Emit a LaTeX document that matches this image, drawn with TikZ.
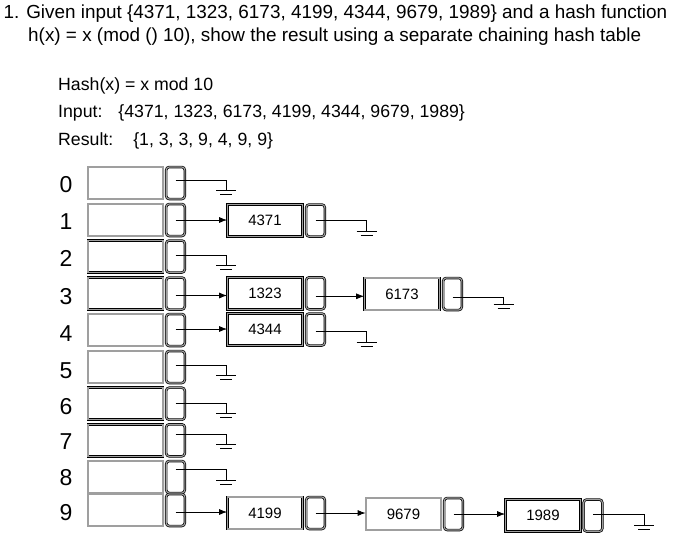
\documentclass[tikz,border=0pt]{standalone}
\usepackage{fontspec}
\setmainfont{Liberation Sans}
\usetikzlibrary{arrows.meta}
\newcommand{\groundstub}[4]{%
  \draw[wire] ([yshift=#2pt]#1.center) -| ++(#3,#4) coordinate (#1g);
  \draw[wire] ([xshift=-10pt]#1g) -- ([xshift=10pt]#1g);
  \draw[wire] ([xshift=-6pt,yshift=-4pt]#1g) -- ([xshift=6pt,yshift=-4pt]#1g);}
\begin{document}
\begin{tikzpicture}[x=1pt,y=-1pt,
  box/.style={draw=black, line width=0.7pt, double=gray!75, double distance=1.1pt, inner sep=0pt, font=\fontsize{15}{18}\selectfont},
  databox/.style={box, minimum width=75pt, minimum height=32pt},
  ptrbox/.style={box, rounded corners=3pt, minimum width=18.6pt, minimum height=32pt},
  wire/.style={line width=0.8pt},
  arr/.style={wire, -{Latex[length=8pt,width=6pt]}},
  idx/.style={font=\fontsize{23}{26}\selectfont, anchor=base, inner sep=0pt},
  txt/.style={anchor=base west, inner sep=0pt},
  title/.style={txt, font=\fontsize{18.9}{23}\selectfont},
  info/.style={txt, font=\fontsize{17.7}{21}\selectfont},
]
\useasboundingbox (0,0) rectangle (681,536);
% texts
\node[title] (t1) at (3.3,18.5) {1. Given input \{4371, 1323, 6173, 4199, 4344, 9679, 1989\} and a hash function};
\node[title] (t2) at (28,41.5) {h(x) = x (mod () 10), show the result using a separate chaining hash table};
\node[info] (h1) at (58,90) {Hash(x) = x mod 10};
\node[info] (h2) at (58,117) {Input:\hspace{16pt}\{4371, 1323, 6173, 4199, 4344, 9679, 1989\}};
\node[info] (h3) at (58,145) {Result:\hspace{20pt}\{1, 3, 3, 9, 4, 9, 9\}};
% table
\foreach \i/\y/\ly in {0/183/184,1/220/221,2/256.5/258,3/293.5/296,4/330/333,5/367/370,6/403.7/406,7/440.3/441,8/477/477,9/510/512}{
  \node[databox] (d\i) at (125.5,\y) {};
  \node[ptrbox] (p\i) at (175.5,\y) {};
  \node[idx] (n\i) at (66,\ly+8.5) {\i};
}
% chain nodes
\node[databox] (c4371) at (265,220.5) {4371};
\node[ptrbox]  (q4371) at (315.5,220.5) {};
\node[databox] (c1323) at (265,293.3) {1323};
\node[ptrbox]  (q1323) at (315.5,293.3) {};
\node[databox] (c4344) at (265,329.5) {4344};
\node[ptrbox]  (q4344) at (315.5,329.5) {};
\node[databox] (c6173) at (402,294) {6173};
\node[ptrbox]  (q6173) at (452.5,294) {};
\node[databox] (c4199) at (265,513) {4199};
\node[ptrbox]  (q4199) at (315.5,513) {};
\node[databox] (c9679) at (403.5,514) {9679};
\node[ptrbox]  (q9679) at (453.5,514) {};
\node[databox] (c1989) at (543,515.5) {1989};
\node[ptrbox]  (q1989) at (593,515.5) {};
% arrows
\draw[arr] (p1.center) -- (p1.center -| c4371.west);
\draw[arr] ([yshift=-2pt]p3.center) -- ([yshift=-2pt]p3.center -| c1323.west);
\draw[arr] ([yshift=1pt]p4.center) -- ([yshift=1pt]p4.center -| c4344.west);
\draw[arr] ([yshift=-3pt]q1323.center) -- ([yshift=-3pt]q1323.center -| c6173.west);
\draw[arr] ([yshift=-2pt]p9.center) -- ([yshift=-2pt]p9.center -| c4199.west);
\draw[arr] (q4199.center) -- (q4199.center -| c9679.west);
\draw[arr] (q9679.center) -- (q9679.center -| c1989.west);
% grounds
\groundstub{p0}{3}{50.5}{10.5}
\groundstub{p2}{1}{50.5}{10}
\groundstub{p5}{2}{50.5}{10}
\groundstub{p6}{0}{50.5}{10}
\groundstub{p7}{6}{50.5}{10}
\groundstub{p8}{8}{50.5}{11}
\groundstub{q4371}{0}{51}{11}
\groundstub{q4344}{-1.5}{51}{11}
\groundstub{q6173}{-3}{51}{7}
\groundstub{q1989}{1.5}{51}{11}
\end{tikzpicture}
\end{document}
